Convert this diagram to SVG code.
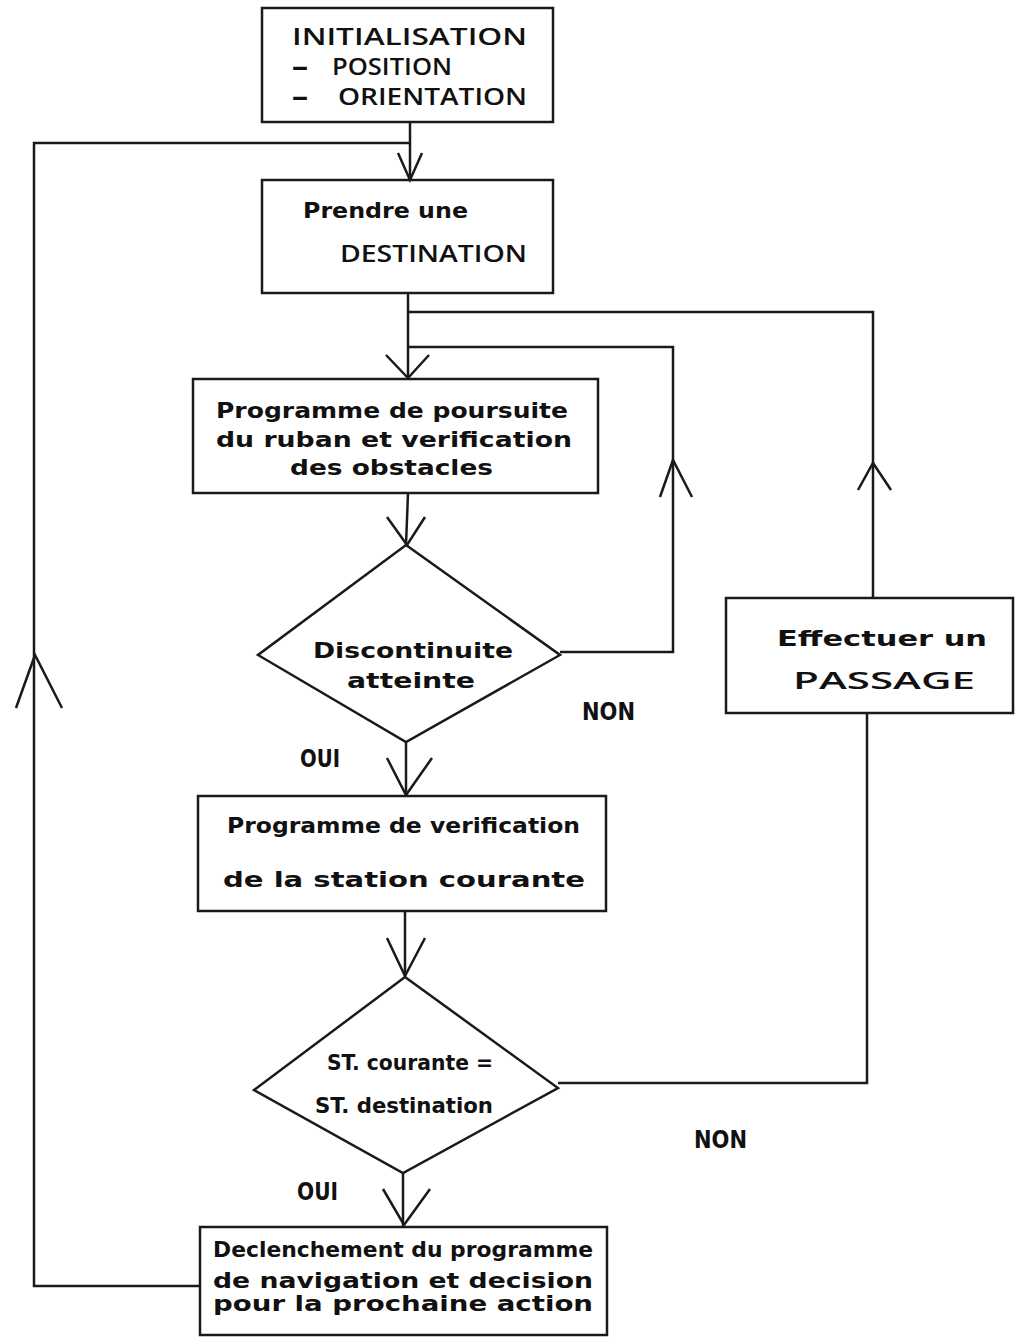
<svg xmlns="http://www.w3.org/2000/svg" width="1015" height="1337" viewBox="0 0 1015 1337">
<style>
.box{fill:none;stroke:#1a1a1a;stroke-width:2.5}
.ln{fill:none;stroke:#1a1a1a;stroke-width:2.5;stroke-linejoin:miter}
.t{font-family:"DejaVu Sans","Liberation Sans",sans-serif;fill:#111}
.reg{font-family:"Open Sans","DejaVu Sans",sans-serif;font-size:24px;font-weight:600}
.b{font-size:21px;font-weight:bold}
.c{font-family:"DejaVu Sans Condensed","DejaVu Sans",sans-serif;font-size:21px;font-weight:bold;fill:#111}
.lab{font-family:"DejaVu Sans Condensed","Liberation Sans",sans-serif;font-size:25px;font-weight:bold;fill:#111}
</style>
<rect width="1015" height="1337" fill="#ffffff"/>
<g id="connectors">
<path class="ln" d="M410,122 V180"/>
<path class="ln" d="M398,153 L410,180 L422,153"/>
<path class="ln" d="M200,1286 H34 V143 H410"/>
<path class="ln" d="M16,708 L35,655 L62,708"/>
<path class="ln" d="M408,293 V379"/>
<path class="ln" d="M386,355 L408,378 L429,355"/>
<path class="ln" d="M408,312 H873 V598"/>
<path class="ln" d="M858,490 L873,463 L891,490"/>
<path class="ln" d="M560,652 H673 V347 H408"/>
<path class="ln" d="M660,497 L673,460 L692,497"/>
<path class="ln" d="M408,493 L406,545"/>
<path class="ln" d="M387,517 L407,545 L425,517"/>
<path class="ln" d="M406,742 V796"/>
<path class="ln" d="M387,758 L406,795 L432,758"/>
<path class="ln" d="M405,911 V977"/>
<path class="ln" d="M387,938 L405,976 L425,938"/>
<path class="ln" d="M403,1173 V1227"/>
<path class="ln" d="M383,1189 L404,1225 L430,1189"/>
<path class="ln" d="M558,1083 H867 V713"/>
</g>
<g id="n_init">
<rect class="box" x="262" y="8" width="291" height="114"/>
<text class="t reg" x="292" y="45" textLength="235" lengthAdjust="spacingAndGlyphs">INITIALISATION</text>
<text class="t reg" x="292" y="75"><tspan textLength="16" lengthAdjust="spacingAndGlyphs" style="font-weight:800">–</tspan><tspan x="332" textLength="120" lengthAdjust="spacingAndGlyphs">POSITION</tspan></text>
<text class="t reg" x="292" y="105"><tspan textLength="16" lengthAdjust="spacingAndGlyphs" style="font-weight:800">–</tspan><tspan x="338" textLength="189" lengthAdjust="spacingAndGlyphs">ORIENTATION</tspan></text>
</g>
<g id="n_dest">
<rect class="box" x="262" y="180" width="291" height="113"/>
<text class="t b" x="303" y="218" textLength="165" lengthAdjust="spacingAndGlyphs">Prendre une</text>
<text class="t reg" x="340" y="262" textLength="187" lengthAdjust="spacingAndGlyphs">DESTINATION</text>
</g>
<g id="n_poursuite">
<rect class="box" x="193" y="379" width="405" height="114"/>
<text class="t b" x="216" y="418" textLength="352" lengthAdjust="spacingAndGlyphs">Programme de poursuite</text>
<text class="t b" x="216" y="447" textLength="356" lengthAdjust="spacingAndGlyphs">du ruban et verification</text>
<text class="t b" x="290" y="475" textLength="203" lengthAdjust="spacingAndGlyphs">des obstacles</text>
</g>
<g id="n_discontinuite">
<polygon class="box" points="406,545 560,655 406,742 258,655"/>
<text class="t b" x="313" y="658" textLength="200" lengthAdjust="spacingAndGlyphs">Discontinuite</text>
<text class="t b" x="347" y="688" textLength="128" lengthAdjust="spacingAndGlyphs">atteinte</text>
</g>
<g id="n_verif">
<rect class="box" x="198" y="796" width="408" height="115"/>
<text class="t b" x="227" y="833" textLength="353" lengthAdjust="spacingAndGlyphs">Programme de verification</text>
<text class="t b" x="223" y="887" textLength="362" lengthAdjust="spacingAndGlyphs">de la station courante</text>
</g>
<g id="n_st">
<polygon class="box" points="405,977 558,1088 403,1173 254,1090"/>
<text class="c" x="327" y="1070" textLength="166" lengthAdjust="spacingAndGlyphs">ST. courante =</text>
<text class="c" x="315" y="1113" textLength="178" lengthAdjust="spacingAndGlyphs">ST. destination</text>
</g>
<g id="n_decl">
<rect class="box" x="200" y="1227" width="407" height="108"/>
<text class="t b" x="213" y="1257" textLength="380" lengthAdjust="spacingAndGlyphs">Declenchement du programme</text>
<text class="t b" x="213" y="1288" textLength="380" lengthAdjust="spacingAndGlyphs">de navigation et decision</text>
<text class="t b" x="213" y="1311" textLength="380" lengthAdjust="spacingAndGlyphs">pour la prochaine action</text>
</g>
<g id="n_passage">
<rect class="box" x="726" y="598" width="287" height="115"/>
<text class="t b" x="777" y="646" textLength="210" lengthAdjust="spacingAndGlyphs">Effectuer un</text>
<text class="t reg" x="793" y="689" textLength="182" lengthAdjust="spacingAndGlyphs">PASSAGE</text>
</g>
<g id="labels">
<text class="lab" x="582" y="720" textLength="53" lengthAdjust="spacingAndGlyphs">NON</text>
<text class="lab" x="300" y="767" textLength="40" lengthAdjust="spacingAndGlyphs">OUI</text>
<text class="lab" x="694" y="1148" textLength="53" lengthAdjust="spacingAndGlyphs">NON</text>
<text class="lab" x="297" y="1200" textLength="41" lengthAdjust="spacingAndGlyphs">OUI</text>
</g>
</svg>
